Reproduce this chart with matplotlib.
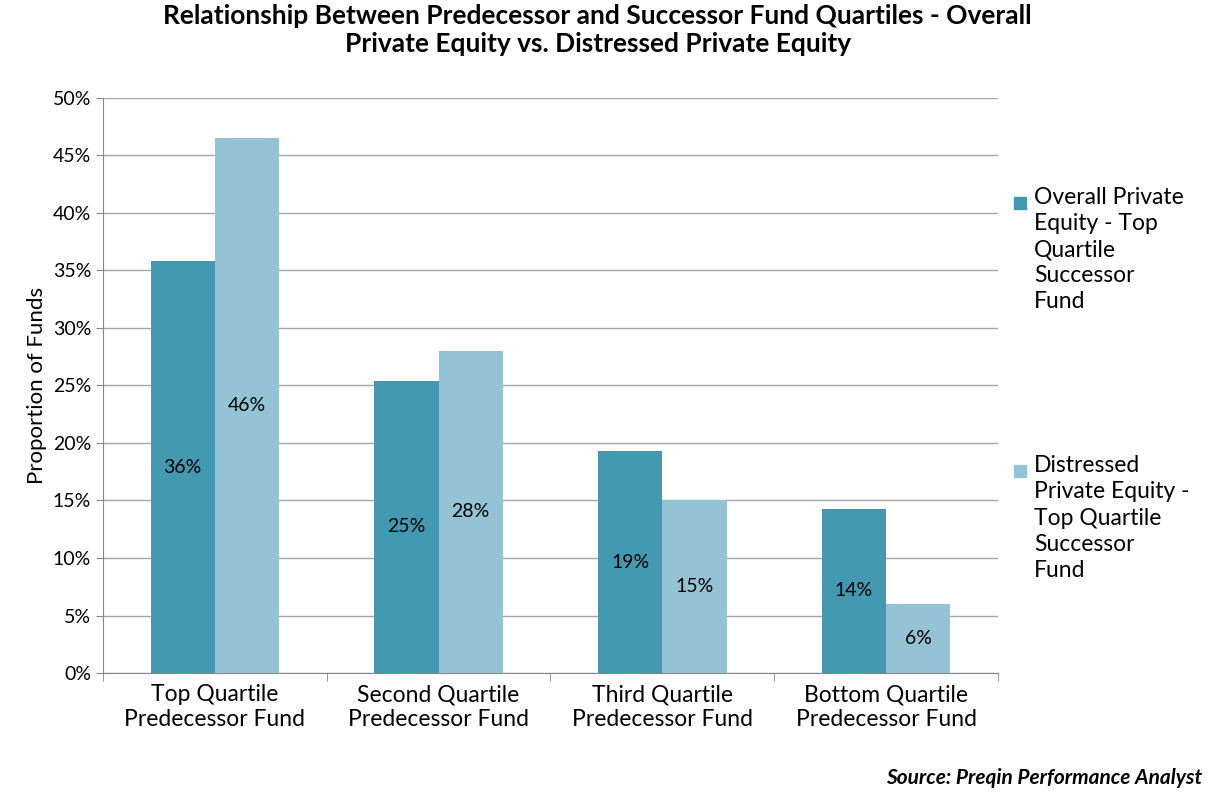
import matplotlib.pyplot as plt
import numpy as np
from matplotlib.ticker import PercentFormatter
from matplotlib.patches import Rectangle

categories = ["Top Quartile\nPredecessor Fund", "Second Quartile\nPredecessor Fund",
              "Third Quartile\nPredecessor Fund", "Bottom Quartile\nPredecessor Fund"]
overall = [35.8, 25.4, 19.3, 14.3]
distressed = [46.5, 28.0, 15.0, 6.0]
series_names = ["Overall Private\nEquity - Top\nQuartile\nSuccessor\nFund",
                "Distressed\nPrivate Equity -\nTop Quartile\nSuccessor\nFund"]

plt.rcParams['font.family'] = ['Lato', 'DejaVu Sans']
fig = plt.figure(figsize=(12.2, 7.96), dpi=100)
ax = fig.add_axes([0.0844, 0.1545, 0.7336, 0.7225])

x = np.arange(len(categories))
w = 0.287
c1, c2 = "#4399b0", "#94c3d5"
b1 = ax.bar(x - w / 2, overall, w, color=c1, zorder=3)
b2 = ax.bar(x + w / 2, distressed, w, color=c2, zorder=3)
for bars, vals in ((b1, overall), (b2, distressed)):
    for b, v in zip(bars, vals):
        ax.text(b.get_x() + b.get_width() / 2, v / 2, f"{round(v):.0f}%",
                ha='center', va='center', fontsize=14, zorder=4)

ax.set_xlim(-0.5, 3.5)
ax.set_ylim(0, 50)
ax.set_yticks(range(0, 51, 5))
ax.yaxis.set_major_formatter(PercentFormatter(decimals=0))
ax.grid(axis='y', color='#a6a6a6', lw=1, zorder=0)
ax.set_xticks(x)
ax.set_xticklabels(categories, fontsize=16.5)
ax.tick_params(axis='y', labelsize=14, length=5, color='#868686')
ax.tick_params(axis='x', length=0, pad=8)
ax.set_xticks(np.arange(-0.5, 4, 1), minor=True)
ax.tick_params(axis='x', which='minor', length=6, color='#868686')
for s in ('top', 'right'):
    ax.spines[s].set_visible(False)
for s in ('left', 'bottom'):
    ax.spines[s].set_color('#868686')
ax.set_ylabel("Proportion of Funds", fontsize=16)

# legend drawn by hand: square aligned to the first text line
for name, col, ytop in zip(series_names, (c1, c2), (0.765, 0.428)):
    fig.patches.append(Rectangle((0.8315, ytop - 0.027), 0.0095, 0.0145,
                                 transform=fig.transFigure, color=col))
    fig.text(0.8475, ytop, name, ha='left', va='top', fontsize=16.5,
             linespacing=1.3)

fig.suptitle("Relationship Between Predecessor and Successor Fund Quartiles - Overall\n"
             "Private Equity vs. Distressed Private Equity",
             fontsize=19, fontweight='bold', y=0.995, x=0.49)
fig.text(0.985, 0.01, "Source: Preqin Performance Analyst", ha='right', va='bottom',
         fontsize=15, fontweight='bold', style='italic')

fig.savefig("out.png", dpi=100)
